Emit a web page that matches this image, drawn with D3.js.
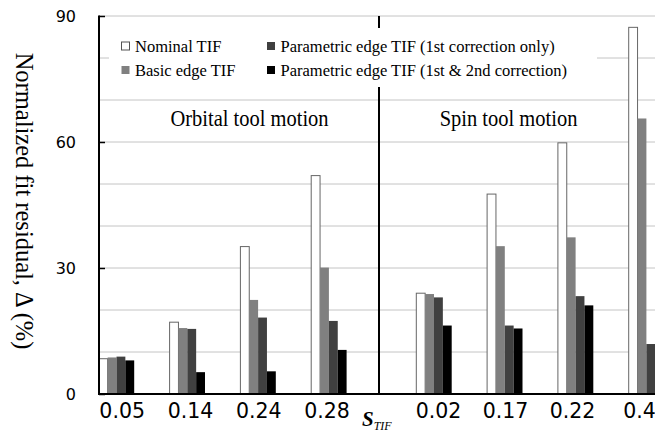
<!DOCTYPE html>
<html>
<head>
<meta charset="utf-8">
<script src="https://cdn.jsdelivr.net/npm/d3@7"></script>
<style>
  html, body { margin: 0; padding: 0; background: #fff; }
  svg { display: block; }
</style>
</head>
<body>
<svg id="chart" width="655" height="438"></svg>
<script>
// ---- data ----
const orbitalCats = ["0.05", "0.14", "0.24", "0.28"];
const spinCats = ["0.02", "0.17", "0.22", "0.4"];
const seriesKeys = ["nominal", "basic", "param1", "param12"];
const seriesLabels = [
  "Nominal TIF",
  "Basic edge TIF",
  "Parametric edge TIF (1st correction only)",
  "Parametric edge TIF (1st & 2nd correction)"
];
// values: first four = orbital, last four = spin
const nominalTIF = [8.4, 17.1, 35.1, 52.0, 24.0, 47.6, 59.8, 87.3];
const basicEdgeTIF = [8.7, 15.7, 22.4, 30.1, 23.8, 35.2, 37.3, 65.6];
const paramEdge1st = [8.9, 15.5, 18.2, 17.4, 23.0, 16.3, 23.3, 11.9];
const paramEdge12 = [8.0, 5.2, 5.4, 10.5, 16.3, 15.6, 21.1, 9.0];
const yTickValues = [0, 30, 60, 90];
const yTitle = "Normalized fit residual, \u0394 (%)";
const panelTitles = ["Orbital tool motion", "Spin tool motion"];

// ---- styles ----
const colors = { nominal: "#ffffff", basic: "#808080", param1: "#404040", param12: "#000000" };
const serif = "'Liberation Serif', 'Times New Roman', serif";
const sans = "'DejaVu Sans', sans-serif";

const svg = d3.select("#chart");
const W = 655;

const y = d3.scaleLinear().domain([0, 90]).range([394, 16]);
const xOrb = d3.scaleBand().domain(orbitalCats).range([81.1, 364.3]).paddingInner(0.5).paddingOuter(0.25);
const xSpin = d3.scaleBand().domain(spinCats).range([398.6, 681.8]).paddingInner(0.5).paddingOuter(0.25);
const xSub = d3.scaleBand().domain(seriesKeys).range([0, xOrb.bandwidth()]);
const lblOrb = d3.scalePoint().domain(orbitalCats).range([121.7, 326.5]);
const lblSpin = d3.scalePoint().domain(spinCats).range([438, 639]);

const axisX0 = 99;

// gridlines
svg.append("g").selectAll("line").data(d3.range(10, 91, 10)).join("line")
  .attr("x1", axisX0).attr("x2", W + 10)
  .attr("y1", d => y(d)).attr("y2", d => y(d))
  .attr("stroke", "#c4c4c4").attr("stroke-width", 1);

// bars
const seriesVals = { nominal: nominalTIF, basic: basicEdgeTIF, param1: paramEdge1st, param12: paramEdge12 };
const rows = [];
orbitalCats.forEach((c, i) => seriesKeys.forEach(k => rows.push({ cat: c, scale: xOrb, key: k, v: seriesVals[k][i] })));
spinCats.forEach((c, i) => seriesKeys.forEach(k => rows.push({ cat: c, scale: xSpin, key: k, v: seriesVals[k][i + 4] })));

svg.append("g").selectAll("rect").data(rows).join("rect")
  .attr("x", d => d.scale(d.cat) + xSub(d.key))
  .attr("y", d => y(d.v))
  .attr("width", xSub.bandwidth())
  .attr("height", d => y(0) - y(d.v))
  .attr("fill", d => colors[d.key])
  .attr("stroke", d => d.key === "nominal" ? "#666" : "none")
  .attr("stroke-width", 1);

// divider between panels
svg.append("line")
  .attr("x1", 379).attr("x2", 379).attr("y1", y(90)).attr("y2", y(0))
  .attr("stroke", "#000").attr("stroke-width", 2);

// legend background
const lg = svg.append("g");
lg.append("rect").attr("x", 109).attr("y", 28).attr("width", 488).attr("height", 59).attr("fill", "#fff");
const legendPos = [
  { x: 121.5, y: 46 }, { x: 121.5, y: 70 }, { x: 267, y: 46 }, { x: 267, y: 70 }
];
seriesKeys.forEach((k, i) => {
  const p = legendPos[i];
  lg.append("rect").attr("x", p.x).attr("y", p.y - 4).attr("width", 8).attr("height", 8)
    .attr("fill", colors[k]).attr("stroke", k === "nominal" ? "#555" : "none");
  lg.append("text").attr("x", p.x + 13.5).attr("y", p.y + 5.5)
    .attr("font-family", serif).attr("font-size", 16.5).attr("fill", "#000")
    .text(seriesLabels[i]);
});

// panel titles
[[249.5, panelTitles[0]], [508.5, panelTitles[1]]].forEach(([cx, t]) => {
  svg.append("text")
    .attr("transform", `translate(${cx},126) scale(1,1.15)`)
    .attr("text-anchor", "middle")
    .attr("font-family", serif).attr("font-size", 20.5).attr("fill", "#000")
    .text(t);
});

// y axis
const yAxis = d3.axisLeft(y).tickValues(yTickValues).tickSize(-6).tickPadding(23);
const gy = svg.append("g").attr("transform", `translate(${axisX0},0)`).call(yAxis);
gy.select(".domain").remove();
gy.selectAll(".tick line").attr("stroke", "#000").attr("stroke-width", 1.5);
gy.selectAll(".tick text").attr("font-family", sans).attr("font-size", 16).attr("fill", "#000");
svg.append("line").attr("x1", axisX0).attr("x2", axisX0).attr("y1", y(90) - 0.5).attr("y2", y(0) + 1)
  .attr("stroke", "#000").attr("stroke-width", 2);

// x axis baseline
svg.append("line").attr("x1", axisX0 - 1).attr("x2", W + 10).attr("y1", y(0)).attr("y2", y(0))
  .attr("stroke", "#000").attr("stroke-width", 2);

// x labels
[lblOrb, lblSpin].forEach(s => {
  const g = svg.append("g").attr("transform", `translate(0,${y(0)})`)
    .call(d3.axisBottom(s).tickSize(0).tickPadding(9));
  g.select(".domain").remove();
  g.selectAll(".tick text").attr("font-family", sans).attr("font-size", 20.5).attr("fill", "#000");
});

// y title
svg.append("text")
  .attr("transform", "translate(16,201) rotate(90)")
  .attr("text-anchor", "middle")
  .attr("font-family", serif).attr("font-size", 24.5).attr("fill", "#000")
  .text(yTitle);

// x title S_TIF
const xt = svg.append("text").attr("x", 362).attr("y", 426)
  .attr("font-family", serif).attr("fill", "#000");
xt.append("tspan").attr("font-size", 21).attr("font-weight", "bold").attr("font-style", "italic").text("S");
xt.append("tspan").attr("font-size", 12).attr("font-style", "italic").attr("dy", 4).text("TIF");
</script>
</body>
</html>
